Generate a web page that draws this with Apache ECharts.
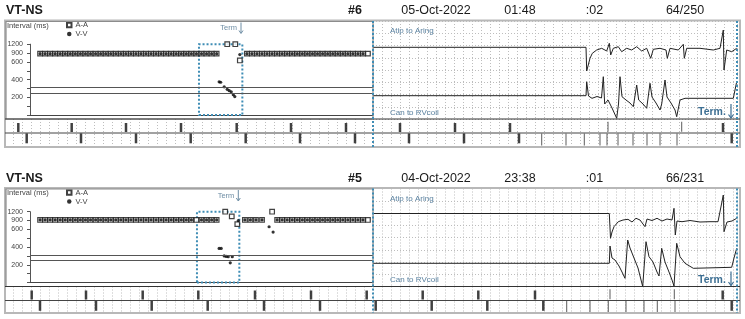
<!DOCTYPE html>
<html><head><meta charset="utf-8">
<script src="https://cdn.jsdelivr.net/npm/echarts@6/dist/echarts.min.js"></script>
<style>html,body{margin:0;padding:0;background:#fff}#c{width:745px;height:319px}</style>
</head><body><div id="c"></div>
<script>
// ================= DATA =================
const panelTitles = ['VT-NS', 'VT-NS'];
const episodeIds = ['#6', '#5'];
const episodeDates = ['05-Oct-2022', '04-Oct-2022'];
const episodeTimes = ['01:48', '23:38'];
const episodeDurations = [':02', ':01'];
const episodeCounts = ['64/250', '66/231'];

// interval plot axis (ms) – piecewise scale: linear to 600, then 900, 1200
const intervalTickValues = [0, 100, 200, 300, 400, 500, 600, 900, 1200];
const intervalTickLabels = ['', '', '200', '', '400', '', '600', '900', '1200'];
const detectThresholds = [310, 250];

// [beat time, interval ms]
const topAA = [[2,880],[3,880],[4,880],[5,880],[6,880],[7,880],[8,880],[9,880],[10,880],[11,880],[12,880],[13,880],[14,880],[15,880],[16,880],[17,880],[18,880],[19,880],[20,880],[21,880],[22,880],[23,880],[24,880],[25,880],[26,880],[27,880],[28,880],[29,880],[30,880],[31,880],[32,880],[33,880],[34,880],[35,880],[36,880],[37,880],
  [39.1,1200],[40.7,1200],[41.6,650],
  [43,880],[44,880],[45,880],[46,880],[47,880],[48,880],[49,880],[50,880],[51,880],[52,880],[53,880],[54,880],[55,880],[56,880],[57,880],[58,880],[59,880],[60,880],[61,880],[62,880],[63,880],[64,880],[65,880],[66,880],[67,880]];
const topVV = [[2,880],[3,880],[4,880],[5,880],[6,880],[7,880],[8,880],[9,880],[10,880],[11,880],[12,880],[13,880],[14,880],[15,880],[16,880],[17,880],[18,880],[19,880],[20,880],[21,880],[22,880],[23,880],[24,880],[25,880],[26,880],[27,880],[28,880],[29,880],[30,880],[31,880],[32,880],[33,880],[34,880],[35,880],[36,880],[37,880],
  [37.5,375],[37.8,370],[38.5,318],[39.1,290],[39.5,275],[39.9,262],[40.3,230],[40.6,208],[41.6,850],
  [43,880],[44,880],[45,880],[46,880],[47,880],[48,880],[49,880],[50,880],[51,880],[52,880],[53,880],[54,880],[55,880],[56,880],[57,880],[58,880],[59,880],[60,880],[61,880],[62,880],[63,880],[64,880],[65,880],[66,880]];
const topDetectWindow = [33.5, 42.1];

const botAA = [[2,920],[3,920],[4,920],[5,920],[6,920],[7,920],[8,920],[9,920],[10,920],[11,920],[12,920],[13,920],[14,920],[15,920],[16,920],[17,920],[18,920],[19,920],[20,920],[21,920],[22,920],[23,920],[24,920],[25,920],[26,920],[27,920],[28,920],[29,920],[30,920],[31,920],[32,920],[33,920],[34,920],[35,920],[36,920],[37,920],
  [38.7,1200],[40.0,1040],[41.1,780],[42.6,920],[43.7,920],[44.8,920],[46.0,920],[48.0,1200],
  [49,920],[50,920],[51,920],[52,920],[53,920],[54,920],[55,920],[56,920],[57,920],[58,920],[59,920],[60,920],[61,920],[62,920],[63,920],[64,920],[65,920],[66,920],[67,920]];
const botVV = [[2,920],[3,920],[4,920],[5,920],[6,920],[7,920],[8,920],[9,920],[10,920],[11,920],[12,920],[13,920],[14,920],[15,920],[16,920],[17,920],[18,920],[19,920],[20,920],[21,920],[22,920],[23,920],[24,920],[25,920],[26,920],[27,920],[28,920],[29,920],[30,920],[31,920],[32,920],[34,920],[35,920],[36,920],[37,920],
  [37.5,385],[37.9,385],[38.5,300],[38.9,295],[39.3,292],[39.7,222],[40.1,292],[41.3,900],
  [42.6,920],[43.7,920],[44.8,920],[46.0,920],[47.4,690],[48.2,570],
  [49,920],[50,920],[51,920],[52,920],[53,920],[54,920],[55,920],[56,920],[57,920],[58,920],[59,920],[60,920],[61,920],[62,920],[63,920],[64,920],[65,920],[66,920]];
const botDetectWindow = [33.1, 41.5];

// EGM traces [time, amplitude]
const topAtrialEGM = [[0,71.7],[213,71.7],[213.7,48],[215,49],[217,60.7],[219.3,65.7],[223.7,69],[228.7,70.7],[233.7,68],[236.3,75.7],[237.7,64],[240.3,70.7],[245.3,72.3],[248.7,67.3],[253.7,70.7],[258.7,69],[263.7,72.3],[268.7,68],[273.7,70.7],[277.7,60.7],[280.3,69.7],[287,70.7],[293,69],[294.3,60.7],[297,70.7],[305.3,69],[310.3,74.7],[311.3,60.7],[313.7,70.7],[327,70.7],[340.3,69],[347,70.7],[350.3,89],[351,49],[353.7,69],[358.7,67.3],[363.7,70.7]];
const topVentEGM = [[0,23.3],[213,23.3],[213.7,37.3],[215.5,23],[219,20.7],[224,22.5],[228.5,21],[230.3,42.3],[231.7,15],[235,19],[239,11],[243.7,0.7],[245.5,15],[247,42.3],[249,22.3],[253,19],[257,16],[260.3,12.3],[263.7,34],[265.7,19],[270,15],[273.7,10.7],[277,35.7],[279,22],[283,16],[287,9],[288.7,15],[292,39],[294,22],[298,16],[302,9],[303.7,2.3],[307,19],[312,20.7],[360.3,20.7],[363.7,37.3]];
const botAtrialEGM = [[0,73],[236.3,73],[237.5,48.2],[239,54.5],[241,59.8],[245.3,64.8],[250,66.5],[255,67.2],[259,64.5],[263,68.2],[267,66.5],[272,59.8],[274,67.5],[279,66],[284,68.2],[289,65.5],[294,67.5],[299,66.5],[301,78.2],[302.3,51.5],[304,65.5],[309,64.8],[317,66],[327,64.5],[337,64.8],[345,64.8],[350.3,91.5],[351,54.8],[354,64.5],[359,65.5],[363.7,68.2]];
const botVentEGM = [[0,23.2],[236.3,23.2],[237,40.5],[239,28.5],[242,26.5],[246,20.5],[249,14.5],[252,8.2],[254.7,46.5],[257,38.5],[261,28.5],[265,18.5],[269.7,0],[273,44.8],[276,29.8],[280,24.5],[284,14.5],[286,10.5],[288.7,38.2],[292,24.5],[296,14.5],[299,6.5],[301,0.5],[303.7,43.2],[307,29.8],[312,23.2],[320.3,18.2],[358.7,19.2],[361,28.5],[363.7,38.2]];

// marker channel times
const topAMarkThick = [-354.7,-301.3,-247,-192,-136.3,-82,-27,27,82,137,350];
const topAMarkThin = [235,308.7];
const topVMarkThick = [-346.3,-292,-237,-182.3,-127.3,-73,-18,36,91,146,358.7];
const topVMarkThin = [168.7,193,211.3,227,234,245,260,274,287,304];
const botAMarkThick = [-341.3,-287,-230.3,-174.7,-118,-62,-6.3,49.7,105.3,162,349.7];
const botAMarkThin = [237,301.3];
const botVMarkThick = [-333,-277,-221.3,-165.3,-109,-53,2.7,58.7,114.3,170.3,358.7];
const botVMarkThin = [193.7,217,235.3,253,271,284.3,302];

// ================= BUILD =================
const FONT = '"Liberation Sans", Arial, sans-serif';
function toAxis(ms) { return ms <= 600 ? ms / 100 : 6 + (ms - 600) / 300; }
const tickLabelByPos = {};
intervalTickValues.forEach((v, i) => { tickLabelByPos[toAxis(v)] = intervalTickLabels[i]; });

const panels = [
  {dy: 0, mh: 28, aa: topAA, vv: topVV, win: topDetectWindow, atr: topAtrialEGM, ven: topVentEGM,
   am: topAMarkThick, amt: topAMarkThin, vm: topVMarkThick, vmt: topVMarkThin},
  {dy: 167.5, mh: 26.5, aa: botAA, vv: botVV, win: botDetectWindow, atr: botAtrialEGM, ven: botVentEGM,
   am: botAMarkThick, amt: botAMarkThin, vm: botVMarkThick, vmt: botVMarkThin}
];

const grid = [], xAxis = [], yAxis = [], series = [], graphic = [], legend = [];
const blue = '#3f8db5', lblBlue = '#5b82a0';

panels.forEach((P, p) => {
  const dy = P.dy, gi = 3 * p;
  grid.push({left: 30, top: 44.2 + dy, width: 343, height: 70.8});
  grid.push({left: 373, top: 21 + dy, width: 364, height: 98});
  grid.push({left: 4, top: 119 + dy, width: 733, height: P.mh});

  xAxis.push({type: 'value', gridIndex: gi, min: 0, max: 68,
    axisLine: {show: true, lineStyle: {color: '#444', width: 1}}, axisTick: {show: false},
    axisLabel: {show: false}, splitLine: {show: false}});
  yAxis.push({type: 'value', gridIndex: gi, min: 0, max: 8, interval: 1,
    axisLine: {show: true, lineStyle: {color: '#555', width: 1}},
    axisTick: {show: true, length: 3, lineStyle: {color: '#555'}},
    axisLabel: {fontSize: 7, color: '#444', fontFamily: FONT, margin: 7,
      formatter: v => tickLabelByPos[v] || ''},
    splitLine: {show: false}});
  xAxis.push({type: 'value', gridIndex: gi + 1, min: 0, max: 364, interval: 9,
    axisLine: {show: false}, axisTick: {show: false}, axisLabel: {show: false},
    splitLine: {show: true, lineStyle: {color: '#bdbdbd', type: [1, 2], width: 1}}});
  yAxis.push({type: 'value', gridIndex: gi + 1, min: 0, max: 98, interval: 12.25,
    axisLine: {show: false}, axisTick: {show: false}, axisLabel: {show: false},
    splitLine: {show: true, lineStyle: {color: '#bdbdbd', type: [1, 2], width: 1}}});
  xAxis.push({type: 'value', gridIndex: gi + 2, min: -369, max: 364, interval: 9,
    axisLine: {show: false}, axisTick: {show: false}, axisLabel: {show: false},
    splitLine: {show: true, lineStyle: {color: '#bdbdbd', type: [1, 2], width: 1}}});
  yAxis.push({type: 'value', gridIndex: gi + 2, min: 0, max: P.mh, inverse: true,
    axisLine: {show: false}, axisTick: {show: false}, axisLabel: {show: false},
    splitLine: {show: false}});

  series.push({name: 'A-A', type: 'scatter', xAxisIndex: gi, yAxisIndex: gi, clip: false,
    symbol: 'rect', symbolSize: 4.6, z: 3,
    itemStyle: {color: '#fff', borderColor: '#111', borderWidth: 1.2},
    data: P.aa.map(d => [d[0], toAxis(d[1])]),
    markLine: {silent: true, symbol: 'none', label: {show: false}, animation: false,
      lineStyle: {color: '#555', width: 1.2, type: 'solid'},
      data: detectThresholds.map(v => ({yAxis: toAxis(v)}))},
    markArea: {silent: true, label: {show: false},
      itemStyle: {color: 'rgba(0,0,0,0)', borderColor: blue, borderWidth: 2, borderType: [2, 2]},
      data: [[{xAxis: P.win[0], yAxis: toAxis(0)}, {xAxis: P.win[1], yAxis: toAxis(1200)}]]}
  });
  series.push({name: 'V-V', type: 'scatter', xAxisIndex: gi, yAxisIndex: gi, clip: false,
    symbol: 'circle', symbolSize: 3.2, z: 4, itemStyle: {color: '#000'},
    data: P.vv.map(d => [d[0], toAxis(d[1])])});
  series.push({name: 'Atip to Aring', type: 'line', xAxisIndex: gi + 1, yAxisIndex: gi + 1,
    showSymbol: false, clip: false, lineStyle: {color: '#222', width: 1}, data: P.atr});
  series.push({name: 'Can to RVcoil', type: 'line', xAxisIndex: gi + 1, yAxisIndex: gi + 1,
    showSymbol: false, clip: false, lineStyle: {color: '#222', width: 1}, data: P.ven});
  series.push({type: 'scatter', xAxisIndex: gi + 2, yAxisIndex: gi + 2, symbol: 'rect',
    symbolSize: [2.5, 9], itemStyle: {color: '#111'}, data: P.am.map(t => [t, 8.5])});
  series.push({type: 'scatter', xAxisIndex: gi + 2, yAxisIndex: gi + 2, symbol: 'rect',
    symbolSize: [1, 10], itemStyle: {color: '#333'}, data: P.amt.map(t => [t, 7.7])});
  series.push({type: 'scatter', xAxisIndex: gi + 2, yAxisIndex: gi + 2, symbol: 'rect',
    symbolSize: [2.5, 10], itemStyle: {color: '#111'}, data: P.vm.map(t => [t, 19.3])});
  series.push({type: 'scatter', xAxisIndex: gi + 2, yAxisIndex: gi + 2, symbol: 'rect',
    symbolSize: [1, 12], itemStyle: {color: '#333'}, data: P.vmt.map(t => [t, 20.5])});

  legend.push({data: [{name: 'A-A', icon: 'rect'}, {name: 'V-V', icon: 'circle'}],
    orient: 'vertical', left: 66, top: 21 + dy, itemWidth: 4.5, itemHeight: 4.5, itemGap: 1,
    padding: 0, selectedMode: false,
    textStyle: {fontSize: 7.5, color: '#444', fontFamily: FONT, padding: [0, 0, 0, -1]}});

  const bottom = 119 + dy + P.mh;
  const hdr = (txt, x, align, bold) => ({type: 'text', x: x, y: 11 + dy + (p ? 0.5 : 0), z: 20,
    style: {text: txt, fill: '#1a1a1a', font: (bold ? 'bold ' : '') + '12.5px ' + FONT,
      textAlign: align, textVerticalAlign: 'middle'}});
  graphic.push(hdr(panelTitles[p], 6, 'left', true));
  graphic.push(hdr(episodeIds[p], 362, 'right', true));
  graphic.push(hdr(episodeDates[p], 436, 'center', false));
  graphic.push(hdr(episodeTimes[p], 520, 'center', false));
  graphic.push(hdr(episodeDurations[p], 594.5, 'center', false));
  graphic.push(hdr(episodeCounts[p], 685, 'center', false));

  graphic.push({type: 'rect', z: 15, shape: {x: 5, y: 20.5 + dy, width: 735, height: bottom - 20.5 - dy},
    style: {fill: 'none', stroke: '#b8b8b8', lineWidth: 2}});
  graphic.push({type: 'rect', z: 15, shape: {x: 6, y: 21.5 + dy, width: 367, height: 97.5},
    style: {fill: 'none', stroke: '#8c8c8c', lineWidth: 1.2}});
  graphic.push({type: 'line', z: 15, shape: {x1: 5, y1: 119 + dy, x2: 740, y2: 119 + dy},
    style: {stroke: '#333', lineWidth: 1}});
  graphic.push({type: 'line', z: 15, shape: {x1: 5, y1: 133 + dy, x2: 740, y2: 133 + dy},
    style: {stroke: '#444', lineWidth: 1}});
  graphic.push({type: 'line', z: 16, shape: {x1: 373, y1: 21 + dy, x2: 373, y2: bottom},
    style: {stroke: blue, lineWidth: 2, lineDash: [2, 2]}});
  graphic.push({type: 'line', z: 16, shape: {x1: 737, y1: 21 + dy, x2: 737, y2: bottom},
    style: {stroke: blue, lineWidth: 2, lineDash: [2, 2]}});

  graphic.push({type: 'text', x: 7, y: 25.5 + dy, z: 20, style: {text: 'Interval (ms)', fill: '#444',
    font: '7.5px ' + FONT, textVerticalAlign: 'middle'}});
  const termX = p ? 238.3 : 241;
  graphic.push({type: 'text', x: termX - 4, y: 28 + dy, z: 20, style: {text: 'Term', fill: '#6f8ea5',
    font: '7.5px ' + FONT, textAlign: 'right', textVerticalAlign: 'middle'}});
  graphic.push({type: 'line', z: 20, shape: {x1: termX, y1: 22.5 + dy, x2: termX, y2: 33 + dy},
    style: {stroke: '#6f8ea5', lineWidth: 1}});
  graphic.push({type: 'polyline', z: 20, shape: {points: [[termX - 2, 30.5 + dy], [termX, 33.5 + dy], [termX + 2, 30.5 + dy]]},
    style: {stroke: '#6f8ea5', lineWidth: 1, fill: 'none'}});
  graphic.push({type: 'text', x: 390, y: 31 + dy, z: 20, style: {text: 'Atip to Aring', fill: lblBlue,
    font: '8px ' + FONT, textVerticalAlign: 'middle'}});
  graphic.push({type: 'text', x: 390, y: 112.7 + dy, z: 20, style: {text: 'Can to RVcoil', fill: lblBlue,
    font: '8px ' + FONT, textVerticalAlign: 'middle'}});
  graphic.push({type: 'text', x: 698, y: 112.5 + dy, z: 20, style: {text: 'Term.', fill: '#3d6f93',
    font: 'bold 10.5px ' + FONT, textVerticalAlign: 'middle'}});
  graphic.push({type: 'line', z: 20, shape: {x1: 731, y1: 104 + dy, x2: 731, y2: 118 + dy},
    style: {stroke: '#3d6f93', lineWidth: 1.2}});
  graphic.push({type: 'polyline', z: 20, shape: {points: [[728.5, 114.5 + dy], [731, 118 + dy], [733.5, 114.5 + dy]]},
    style: {stroke: '#3d6f93', lineWidth: 1.2, fill: 'none'}});
});

const chart = echarts.init(document.getElementById('c'), null, {renderer: 'canvas'});
chart.setOption({
  animation: false,
  backgroundColor: '#fff',
  textStyle: {fontFamily: FONT},
  grid, xAxis, yAxis, series, legend, graphic
});
</script>
</body></html>
